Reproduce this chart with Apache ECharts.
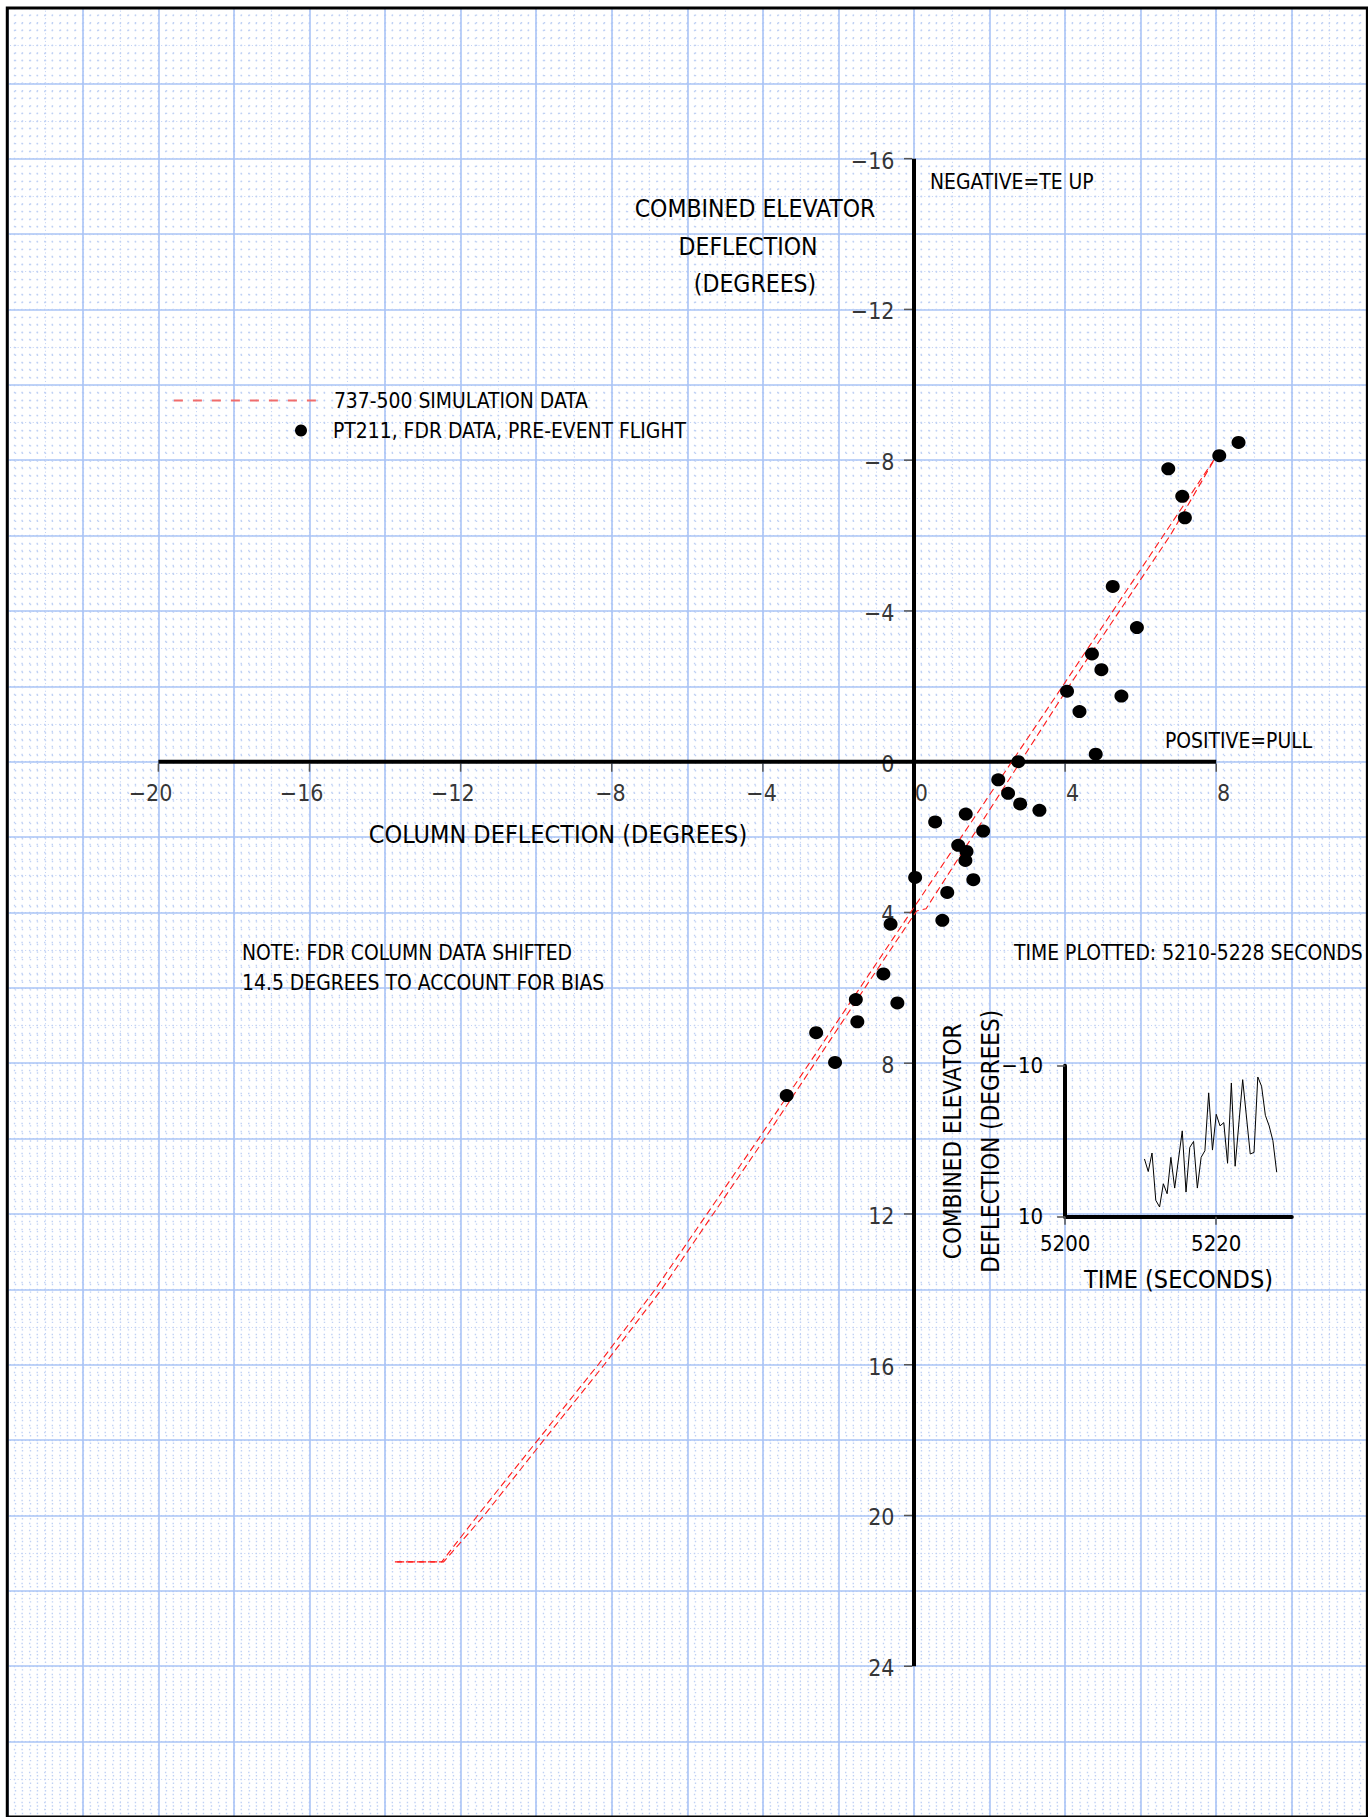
<!DOCTYPE html>
<html>
<head>
<meta charset="utf-8">
<script src="https://cdn.jsdelivr.net/npm/echarts@6/dist/echarts.min.js"></script>
<style>
  html, body { margin: 0; padding: 0; background: #fff; }
  #chart { width: 1368px; height: 1817px; }
</style>
</head>
<body>
<div id="chart"></div>
<script>
// ---------------- DATA ----------------
// Main axes: column deflection (x) and combined elevator deflection (y, negative = TE up)
const xTicks = [-20, -16, -12, -8, -4, 0, 4, 8];
const xTickLabels = ['\u221220', '\u221216', '\u221212', '\u22128', '\u22124', '0', '4', '8'];
const yTicks = [-16, -12, -8, -4, 0, 4, 8, 12, 16, 20, 24];
const yTickLabels = ['\u221216', '\u221212', '\u22128', '\u22124', '0', '4', '8', '12', '16', '20', '24'];
const xAxisExtent = [-20, 8];
const yAxisExtent = [-16, 24];

// 737-500 simulation data (two branches of the loop)
const simUpCol  = [-13.74, -12.5, -11.55, -9.96, -8.36, -6.85, -4.11, -1.43, 1.25, 3.93, 6.6, 8.0];
const simUpElev = [21.23, 21.23, 20, 18, 16, 14, 10, 6, 2, -2, -6, -8.1];
const simDnCol  = [8.0, 6.78, 4.1, 0.32, 0.07, -1.3, -3.95, -6.68, -8.2, -9.8, -11.38, -12.45, -13.74];
const simDnElev = [-8.1, -6, -2, 3.9, 3.96, 6, 10, 14, 16, 18, 20, 21.23, 21.23];

// PT211 FDR data, pre-event flight
const fdrCol  = [8.59, 8.08, 6.73, 7.10, 7.17, 5.26, 5.90, 4.71, 4.96, 5.49, 4.05, 4.38, 4.81, 2.76, 2.23, 2.49, 2.81, 3.32,
                 1.37, 0.56, 1.83, 1.17, 1.39, 1.36, 1.57, 0.03, 0.88, 0.75, -0.62, -0.81, -0.44, -1.54, -1.50, -2.59, -2.09, -3.37];
const fdrElev = [-8.47, -8.12, -7.77, -7.04, -6.47, -4.65, -3.56, -2.86, -2.44, -1.74, -1.87, -1.33, -0.20, 0.0, 0.48, 0.84, 1.12, 1.29,
                 1.39, 1.60, 1.84, 2.22, 2.38, 2.62, 3.13, 3.07, 3.47, 4.21, 4.31, 5.63, 6.40, 6.31, 6.90, 7.19, 7.98, 8.86];

// Inset: time history of combined elevator deflection
const insetTime = [5210.5, 5211, 5211.5, 5212, 5212.5, 5213, 5213.5, 5214, 5214.5, 5215.5, 5216, 5216.5, 5217, 5217.5,
                   5218, 5218.5, 5219, 5219.5, 5220, 5220.5, 5221, 5221.5, 5222, 5222.5, 5223.5, 5224.5, 5225, 5225.5,
                   5226, 5226.5, 5227, 5227.5, 5228];
const insetElev = [2.34, 4.0, 1.55, 7.81, 8.69, 5.62, 6.94, 2.12, 6.19, -1.38, 6.72, 0.81, 0.02, 6.19,
                   2.12, 1.25, -6.41, 1.16, -3.57, -2.04, -2.47, 2.91, -7.72, 3.30, -8.16, 1.68, 1.47, -8.51,
                   -7.29, -3.44, -2.04, -0.07, 4.09];
const insetXTicks = [5200, 5220];
const insetYTicks = [-10, 10];

// ---------------- LAYOUT ----------------
const FONT = "'DejaVu Sans Condensed','Liberation Sans Narrow','DejaVu Sans',sans-serif";
const S = 37.78;            // px per degree
const X0 = 914, Y0 = 763.5; // pixel of (0,0)
const XMIN = -24, XMAX = 12, YMIN = -20, YMAX = 28;
const LAT = 0.2 * S;        // lattice spacing in px

const zip = (a, b) => a.map((v, i) => [v, b[i]]);
const fmt = v => (v < 0 ? '\u2212' + Math.abs(v) : String(v));

const gridBlue = '#aac4f6';
const dotBlue = '#c0d1f4';

function bgAxis(kind, interval, lineStyle) {
  const o = {
    gridIndex: 0, type: 'value', interval: interval,
    min: kind === 'x' ? XMIN : YMIN, max: kind === 'x' ? XMAX : YMAX,
    axisLine: { show: false }, axisTick: { show: false }, axisLabel: { show: false },
    splitLine: { show: true, lineStyle: lineStyle }, silent: true
  };
  if (kind === 'y') o.inverse = true;
  return o;
}
const latticeStyle = { color: dotBlue, width: 1.4, type: [1.4, LAT - 1.4], dashOffset: 0.7 };
const midStyle = { color: dotBlue, width: 1.0, type: [1.0, LAT / 2 - 1.0], dashOffset: 0.5 };
const majorStyle = { color: gridBlue, width: 1.6, type: 'solid' };

const txt = (text, x, y, size, align) => ({
  type: 'text', x: x, y: y, silent: true, z: 50,
  style: { text: text, font: size + 'px ' + FONT, textAlign: align || 'left', textVerticalAlign: 'middle', fill: '#000' }
});

const SIM = '737-500 SIMULATION DATA';
const FDR = 'PT211, FDR DATA, PRE-EVENT FLIGHT';
const SMALL = 20.9;

const option = {
  animation: false,
  textStyle: { fontFamily: FONT },
  grid: [
    { left: X0 + XMIN * S, top: Y0 + YMIN * S, width: (XMAX - XMIN) * S, height: (YMAX - YMIN) * S,
      show: true, borderColor: '#000', borderWidth: 3, backgroundColor: 'transparent', z: 20 },
    { left: X0 + 4 * S, top: Y0 + 8 * S, width: 6 * S, height: 4 * S, show: false }
  ],
  xAxis: [
    bgAxis('x', 0.2, latticeStyle),
    bgAxis('x', 1, midStyle),
    bgAxis('x', 2, majorStyle),
    {
      gridIndex: 1, type: 'value', min: 5200, max: 5230, interval: 10,
      axisLine: { show: true, onZero: false, lineStyle: { color: '#000', width: 4 } },
      axisTick: { show: true, customValues: insetXTicks, length: 8, lineStyle: { color: '#555', width: 1.5 } },
      axisLabel: { show: true, customValues: insetXTicks, margin: 16, fontSize: 22, color: '#000', fontFamily: FONT,
                   formatter: v => String(v) },
      splitLine: { show: false },
      name: 'TIME (SECONDS)', nameLocation: 'middle', nameGap: 50,
      nameTextStyle: { fontSize: 25, color: '#000', fontFamily: FONT }
    }
  ],
  yAxis: [
    bgAxis('y', 0.2, latticeStyle),
    bgAxis('y', 1, midStyle),
    bgAxis('y', 2, majorStyle),
    {
      gridIndex: 1, type: 'value', min: -10, max: 10, interval: 10, inverse: true,
      axisLine: { show: true, onZero: false, lineStyle: { color: '#000', width: 4 } },
      axisTick: { show: true, customValues: insetYTicks, length: 8, lineStyle: { color: '#555', width: 1.5 } },
      axisLabel: { show: true, customValues: insetYTicks, margin: 22, fontSize: 22, color: '#000', fontFamily: FONT,
                   formatter: v => fmt(v) },
      splitLine: { show: false },
      name: 'COMBINED ELEVATOR\nDEFLECTION (DEGREES)', nameLocation: 'middle', nameRotate: 90, nameGap: 55,
      nameMoveOverlap: false,
      nameTextStyle: { fontSize: 24, lineHeight: 38, color: '#000', fontFamily: FONT }
    }
  ],
  legend: [
    { data: [{ name: SIM, lineStyle: { color: '#f06c6c', width: 1.8, type: [9, 10] },
               itemStyle: { color: 'rgba(0,0,0,0)', opacity: 0, borderWidth: 0 } }],
      left: 173, top: 390, padding: 0, itemWidth: 145, itemHeight: 14, selectedMode: false,
      textStyle: { fontSize: SMALL, color: '#000', fontFamily: FONT, padding: [0, 0, 0, 10] } },
    { data: [FDR], left: 295, top: 420, padding: 0, itemWidth: 12, itemHeight: 12, selectedMode: false,
      textStyle: { fontSize: SMALL, color: '#000', fontFamily: FONT, padding: [0, 0, 0, 21] } }
  ],
  graphic: [
    txt('COMBINED ELEVATOR', 755, 208.5, 24.5, 'center'),
    txt('DEFLECTION', 748, 246.7, 24.5, 'center'),
    txt('(DEGREES)', 755, 283.8, 24.5, 'center'),
    txt('NEGATIVE=TE UP', 930, 182, SMALL),
    txt('POSITIVE=PULL', 1165, 741, SMALL),
    txt('COLUMN DEFLECTION (DEGREES)', 558, 834.5, 25, 'center'),
    txt('NOTE: FDR COLUMN DATA SHIFTED', 242, 953.3, SMALL),
    txt('14.5 DEGREES TO ACCOUNT FOR BIAS', 242, 983.3, SMALL),
    txt('TIME PLOTTED: 5210-5228 SECONDS', 1014, 953.4, SMALL)
  ],
  series: [
    // main axis lines
    { name: 'x-axis', type: 'line', xAxisIndex: 0, yAxisIndex: 0, data: xAxisExtent.map(v => [v, 0]),
      symbol: 'none', silent: true, lineStyle: { color: '#000', width: 4, cap: 'butt' }, z: 5 },
    { name: 'y-axis', type: 'line', xAxisIndex: 0, yAxisIndex: 0, data: yAxisExtent.map(v => [0, v]),
      symbol: 'none', silent: true, lineStyle: { color: '#000', width: 4, cap: 'butt' }, z: 5 },
    // tick marks
    { name: 'x-ticks', type: 'scatter', xAxisIndex: 0, yAxisIndex: 0, data: xTicks.map(v => [v, 0]),
      symbol: 'rect', symbolSize: [1.5, 8], symbolOffset: [0, 6], itemStyle: { color: '#555', opacity: 1 }, silent: true, z: 4 },
    { name: 'y-ticks', type: 'scatter', xAxisIndex: 0, yAxisIndex: 0, data: yTicks.map(v => [0, v]),
      symbol: 'rect', symbolSize: [8, 1.5], symbolOffset: [-6, 0], itemStyle: { color: '#555', opacity: 1 }, silent: true, z: 4 },
    // tick labels
    { name: 'x-labels', type: 'scatter', xAxisIndex: 0, yAxisIndex: 0, data: xTicks.map(v => [v, 0]),
      symbolSize: 1, itemStyle: { color: 'rgba(0,0,0,0)' }, silent: true, z: 6,
      label: { show: true, position: [14.5, 31.5], align: 'right', verticalAlign: 'middle',
               fontSize: 23, color: '#000', fontFamily: FONT, formatter: p => xTickLabels[p.dataIndex] } },
    { name: 'y-labels', type: 'scatter', xAxisIndex: 0, yAxisIndex: 0, data: yTicks.map(v => [0, v]),
      symbolSize: 1, itemStyle: { color: 'rgba(0,0,0,0)' }, silent: true, z: 6,
      label: { show: true, position: [-19, 2.5], align: 'right', verticalAlign: 'middle',
               fontSize: 23, color: '#000', fontFamily: FONT, formatter: p => yTickLabels[p.dataIndex] } },
    // simulation branches
    { name: SIM, type: 'line', xAxisIndex: 0, yAxisIndex: 0, data: zip(simUpCol, simUpElev),
      symbol: 'none', silent: true, z: 7, itemStyle: { color: '#ff1a1a' },
      lineStyle: { color: '#ff1a1a', width: 1.1, type: [7, 4] } },
    { name: SIM, type: 'line', xAxisIndex: 0, yAxisIndex: 0, data: zip(simDnCol, simDnElev),
      symbol: 'none', silent: true, z: 7, itemStyle: { color: '#ff1a1a' },
      lineStyle: { color: '#ff1a1a', width: 1.1, type: [7, 4], dashOffset: 5 } },
    // FDR points
    { name: FDR, type: 'scatter', xAxisIndex: 0, yAxisIndex: 0, data: zip(fdrCol, fdrElev),
      symbol: 'circle', symbolSize: [14, 13], itemStyle: { color: '#000', opacity: 1 }, silent: true, z: 8 },
    // inset time history
    { name: 'inset', type: 'line', xAxisIndex: 3, yAxisIndex: 3, data: zip(insetTime, insetElev),
      symbol: 'none', silent: true, z: 8, lineStyle: { color: '#000', width: 1 } }
  ]
};

const chart = echarts.init(document.getElementById('chart'), null, { renderer: 'svg', width: 1368, height: 1817 });
chart.setOption(option);
</script>
</body>
</html>
